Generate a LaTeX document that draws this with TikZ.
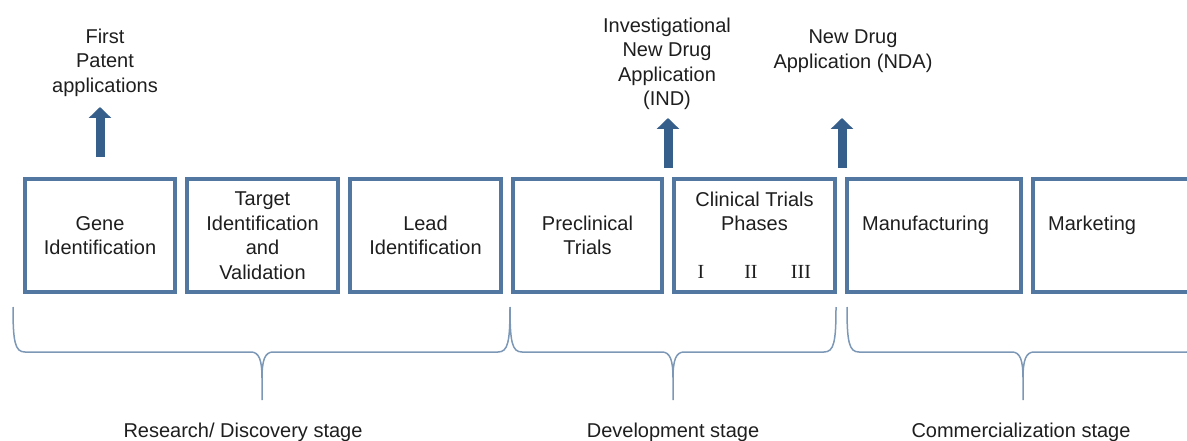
\documentclass[tikz,border=0pt]{standalone}
\usepackage{fontspec}
\setmainfont{Liberation Sans}
\newfontfamily\phasefont{Liberation Serif}
\usepackage{tikz}
\usetikzlibrary{arrows.meta,positioning}
\definecolor{boxblue}{RGB}{82,119,160}
\definecolor{arrowblue}{RGB}{55,95,140}
\definecolor{braceblue}{RGB}{125,152,182}
\definecolor{textgray}{RGB}{30,30,30}
% curly bracket under a group of stages: left end, right end, tip
\newcommand{\stagebrace}[3]{%
  \draw[bracket] (#1,307) .. controls (#1,342) and (#1+2,352) .. (#1+12,352)
    -- (#3-11,352) .. controls (#3-3,352) and (#3,360) .. (#3,378) -- (#3,400)
    (#3,378) .. controls (#3,360) and (#3+3,352) .. (#3+11,352)
    -- (#2-12,352) .. controls (#2-2,352) and (#2,342) .. (#2,307);}

\begin{document}
\begin{tikzpicture}[x=1pt,y=-1pt,node distance=12pt,font=\fontsize{20}{24.5}\selectfont,text=textgray]
  \tikzstyle{stagebox}=[draw=boxblue,line width=4pt,minimum height=113pt,inner sep=0pt,outer sep=0pt,align=center]
  \tikzstyle{note}=[align=center,inner sep=0pt,anchor=north]
  \tikzstyle{milestone}=[draw=arrowblue,line width=9pt,-{Triangle[width=22pt,length=11pt]}]
  \tikzstyle{bracket}=[draw=braceblue,line width=1.5pt]
  \tikzstyle{stage}=[anchor=base,inner sep=0pt]

  \path[use as bounding box,clip] (0,0) rectangle (1187,441);

  % the pipeline boxes
  \node[stagebox,minimum width=150pt] (gene) at (100,235.5) {Gene\\Identification};
  \node[stagebox,minimum width=151pt,right=of gene] (target) {Target\\Identification\\and\\Validation};
  \node[stagebox,minimum width=151pt,right=of target] (lead) {Lead\\Identification};
  \node[stagebox,minimum width=149pt,right=of lead] (preclin) {Preclinical\\Trials};
  \node[stagebox,minimum width=161pt,right=of preclin] (clinical)
    {Clinical Trials\\Phases\\[23.5pt]{\phasefont\makebox[50pt]{I}\makebox[50pt]{II}\makebox[50pt]{III}\makebox[7pt]{}}};
  \node[stagebox,minimum width=174pt,right=of clinical] (manuf) {};
  \node[stagebox,minimum width=174pt,right=of manuf] (market) {};
  \node[anchor=base west,inner sep=0pt] (manuftext) at ([xshift=15pt,yshift=5.5pt]manuf.west) {Manufacturing};
  \node[anchor=base west,inner sep=0pt] (markettext) at ([xshift=15pt,yshift=5.5pt]market.west) {Marketing};

  % milestones
  \node[note] (patent) at (105,28.7) {First\\Patent\\applications};
  \node[note] (ind) at (667,17.7) {Investigational\\New Drug\\Application\\(IND)};
  \node[note] (nda) at (853,29.7) {New Drug\\Application (NDA)};
  \coordinate (patfoot) at (100,157);
  \coordinate (pattip) at (100,107);
  \coordinate (indfoot) at (668,168);
  \coordinate (indtip) at (668,118);
  \coordinate (ndafoot) at (842,168);
  \coordinate (ndatip) at (842,118);
  \draw[milestone] (patfoot) -- (pattip);
  \draw[milestone] (indfoot) -- (indtip);
  \draw[milestone] (ndafoot) -- (ndatip);

  % stages
  \stagebrace{13}{510}{262}
  \stagebrace{510}{836}{673}
  \stagebrace{847}{1199}{1023}
  \node[stage] (research) at (243,437) {Research/ Discovery stage};
  \node[stage] (develop) at (673,437) {Development stage};
  \node[stage] (commerce) at (1021,437) {Commercialization stage};
\end{tikzpicture}
\end{document}
